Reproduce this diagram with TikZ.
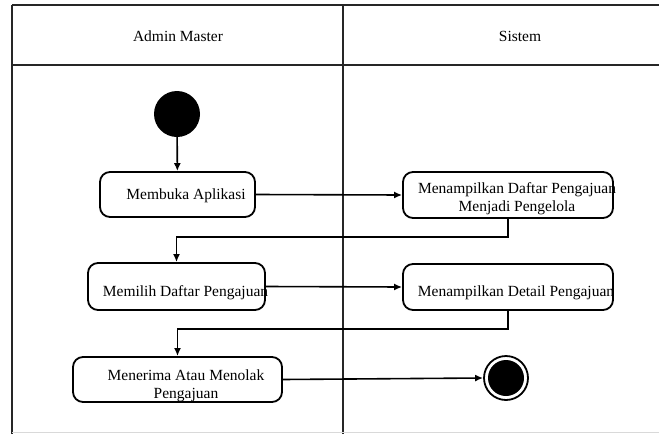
\documentclass[tikz,border=0pt]{standalone}
\usepackage{fontspec}
\setmainfont{Liberation Serif}
\usetikzlibrary{arrows.meta}
\begin{document}
\begin{tikzpicture}[x=1pt,y=-1pt,
  lane/.style={line width=2pt, draw=black!85},
  actbox/.style={draw, line width=1.8pt, rounded corners=10pt, inner sep=0pt},
  txt/.style={font=\fontsize{15.5}{18}\selectfont, inner sep=0pt, align=center},
  flow/.style={line width=1.6pt, -{Latex[length=8pt,width=7pt]}}]
\useasboundingbox (0,0) rectangle (659,434);
% swimlane frame
\draw[lane] (12,5) -- (659,5);
\draw[lane] (12,65) -- (659,65);
\draw[lane] (12,5) -- (12,434);
\draw[lane] (343,5) -- (343,434);
\draw[line width=1pt, draw=black!15] (12,432) -- (659,432);
\node[txt] (h1) at (178,36) {Admin Master};
\node[txt] (h2) at (520,36) {Sistem};
% nodes
\node[circle, fill=black, minimum size=46pt, inner sep=0pt] (start) at (177,114) {};
\node[actbox, minimum width=155pt, minimum height=45pt] (b1) at (177.5,194.5) {};
\node[txt] (t1) at (186,195.5) {Membuka Aplikasi};
\node[actbox, minimum width=210pt, minimum height=46pt] (b2) at (508,195) {};
\node[txt] (t2) at (517,199) {Menampilkan Daftar Pengajuan\\Menjadi Pengelola};
\node[actbox, minimum width=177pt, minimum height=47pt] (b3) at (176.5,286.5) {};
\node[txt] (t3) at (185.5,293) {Memilih Daftar Pengajuan};
\node[actbox, minimum width=210pt, minimum height=46pt] (b4) at (508,287) {};
\node[txt] (t4) at (516,293) {Menampilkan Detail Pengajuan};
\node[actbox, minimum width=209pt, minimum height=45pt] (b5) at (177.5,379.5) {};
\node[txt] (t5) at (186,386) {Menerima Atau Menolak\\Pengajuan};
\node[circle, draw, line width=1.8pt, minimum size=44pt, inner sep=0pt] (end) at (506,378) {};
\node[circle, fill=black, minimum size=36pt, inner sep=0pt] (endin) at (506,378) {};
% connectors
\draw[flow] (start) -- (b1);
\draw[flow] (b1.east) -- (b2.west);
\draw[flow] (b2.south) -- ++(0,18) -| (b3.north);
\draw[flow] (b3.east) -- (b4.west);
\draw[flow] (b4.south) -- ++(0,18) -| (b5.north);
\draw[flow] (b5.east) -- (end.west);
\end{tikzpicture}
\end{document}
